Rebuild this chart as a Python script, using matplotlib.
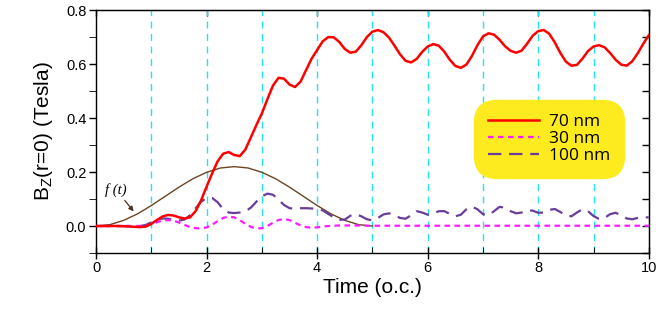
import numpy as np
import matplotlib.pyplot as plt

plt.rcParams['font.family'] = ['Liberation Sans', 'DejaVu Sans']
plt.rcParams['mathtext.fontset'] = 'custom'
plt.rcParams['mathtext.rm'] = 'Liberation Sans'

# time grid (o.c.), step 0.1
time = np.round(np.arange(0, 101) * 0.1, 1)

b_70nm = [0, 0, 0, 0, 0, -0.001, -0.002, -0.003, -0.004, -0.002,
          0.008, 0.022, 0.035, 0.041, 0.039, 0.032, 0.028, 0.032, 0.055, 0.095,
          0.146, 0.195, 0.240, 0.268, 0.274, 0.263, 0.259, 0.283, 0.328, 0.374,
          0.417, 0.470, 0.520, 0.549, 0.546, 0.524, 0.515, 0.535, 0.578, 0.620,
          0.652, 0.684, 0.700, 0.699, 0.682, 0.656, 0.642, 0.646, 0.670, 0.700,
          0.720, 0.726, 0.718, 0.698, 0.668, 0.636, 0.612, 0.606, 0.619, 0.645,
          0.665, 0.674, 0.668, 0.646, 0.616, 0.593, 0.586, 0.598, 0.630, 0.670,
          0.702, 0.714, 0.709, 0.690, 0.666, 0.649, 0.642, 0.650, 0.676, 0.705,
          0.722, 0.726, 0.712, 0.680, 0.641, 0.609, 0.594, 0.597, 0.620, 0.648,
          0.665, 0.670, 0.662, 0.641, 0.616, 0.598, 0.594, 0.610, 0.640, 0.675,
          0.707]

b_30nm = [0, 0, 0, 0, 0, 0, 0, 0, 0, 0.001,
          0.006, 0.014, 0.020, 0.022, 0.020, 0.013, 0.004, -0.004, -0.008, -0.009,
          -0.005, 0.005, 0.018, 0.030, 0.035, 0.032, 0.022, 0.008, -0.003, -0.009,
          -0.008, 0.000, 0.012, 0.022, 0.026, 0.022, 0.012, 0.002, -0.004, -0.006,
          -0.005, -0.002, 0.000, 0.001, 0.002, 0.002, 0.002, 0.002, 0.002, 0.001,
          0.001, 0.001, 0.001, 0.001, 0.001, 0.001, 0.001, 0.001, 0.001, 0.001,
          0.001, 0.001, 0.001, 0.001, 0.001, 0.001, 0.001, 0.001, 0.001, 0.001,
          0.001, 0.001, 0.001, 0.001, 0.001, 0.001, 0.001, 0.001, 0.001, 0.001,
          0.001, 0.001, 0.001, 0.001, 0.001, 0.001, 0.001, 0.001, 0.001, 0.001,
          0.001, 0.001, 0.001, 0.001, 0.001, 0.001, 0.001, 0.001, 0.001, 0.001,
          0.001]

b_100nm = [0, 0, 0, 0, 0, 0, 0, 0, 0, 0.004,
           0.014, 0.024, 0.028, 0.027, 0.023, 0.020, 0.024, 0.040, 0.065, 0.090,
           0.104, 0.104, 0.088, 0.062, 0.050, 0.048, 0.050, 0.054, 0.068, 0.090,
           0.110, 0.120, 0.116, 0.098, 0.078, 0.066, 0.064, 0.066, 0.066, 0.065,
           0.064, 0.058, 0.045, 0.032, 0.023, 0.024, 0.038, 0.044, 0.036, 0.025,
           0.021, 0.030, 0.043, 0.047, 0.040, 0.030, 0.027, 0.040, 0.055, 0.050,
           0.042, 0.045, 0.055, 0.055, 0.045, 0.036, 0.042, 0.062, 0.072, 0.062,
           0.044, 0.040, 0.055, 0.071, 0.068, 0.055, 0.047, 0.050, 0.058, 0.057,
           0.049, 0.050, 0.060, 0.063, 0.052, 0.039, 0.036, 0.050, 0.062, 0.055,
           0.037, 0.026, 0.030, 0.044, 0.049, 0.040, 0.028, 0.025, 0.030, 0.032,
           0.032]

# pulse envelope f(t)
f_time = [0, 0.25, 0.5, 0.75, 1.0, 1.25, 1.5, 1.75, 2.0, 2.25, 2.5,
          2.75, 3.0, 3.25, 3.5, 3.75, 4.0, 4.25, 4.5, 4.75, 5.0]
f_vals = [0, 0.005, 0.021, 0.045, 0.076, 0.110, 0.144, 0.175, 0.199, 0.215, 0.220,
          0.215, 0.199, 0.175, 0.144, 0.110, 0.076, 0.045, 0.021, 0.005, 0]

grid_times = [1, 2, 3, 4, 5, 6, 7, 8, 9]

fig = plt.figure(figsize=(6.58, 3.25), dpi=100)
ax = fig.add_axes([0.146, 0.2215, 0.84, 0.7475])

for g in grid_times:
    ax.axvline(g, color='#22e4f0', lw=1.0, ls=(0, (5, 4)), zorder=1)

ax.plot(f_time, f_vals, color='#6b4424', lw=1.0, zorder=2)
ax.plot(time, b_100nm, color='#6a3d9a', lw=1.6, ls=(0, (6, 3.5)), zorder=3,
        label='100 nm', dash_joinstyle='round')
ax.plot(time, b_30nm, color='#ff1aff', lw=1.6, ls=(0, (2.5, 2)), zorder=3,
        label='30 nm', dash_joinstyle='round')
ax.plot(time, b_70nm, color='#ff0000', lw=1.8, zorder=4, label='70 nm',
        solid_joinstyle='round')

ax.annotate('f (t)', xy=(0.68, 0.054), xytext=(0.36, 0.135),
            fontsize=10.5, family='Liberation Serif', style='italic',
            ha='center', va='center',
            arrowprops=dict(arrowstyle='-|>', color='#4a3020', lw=0.9,
                            mutation_scale=7, shrinkA=1, shrinkB=0))

ax.set_xlim(0, 10)
ax.set_ylim(-0.1, 0.8)
ax.set_xticks([0, 2, 4, 6, 8, 10])
ax.set_xticks([1, 3, 5, 7, 9], minor=True)
ax.set_yticks([0.0, 0.2, 0.4, 0.6, 0.8])
ax.set_yticklabels(['0.0', '0.2', '0.4', '0.6', '0.8'])
ax.set_yticks([-0.1, 0.1, 0.3, 0.5, 0.7], minor=True)
ax.tick_params(axis='both', labelsize=10.5, color='black', width=1)
ax.tick_params(axis='x', which='major', direction='inout', length=8, pad=2)
ax.tick_params(axis='x', which='minor', direction='in', length=4)
ax.tick_params(axis='y', which='major', direction='out', length=5, pad=2)
ax.tick_params(axis='y', which='minor', direction='out', length=5)
for sp in ax.spines.values():
    sp.set_linewidth(1.0)

# inward ticks on the right and top frames
right = ax.secondary_yaxis('right')
right.set_yticks([-0.1, 0.0, 0.1, 0.2, 0.3, 0.4, 0.5, 0.6, 0.7, 0.8])
right.tick_params(direction='in', length=5, labelright=False, width=1)
top = ax.secondary_xaxis('top')
top.set_xticks([0, 2, 4, 6, 8, 10])
top.tick_params(direction='in', length=4, labeltop=False, width=1)

ax.set_xlabel('Time (o.c.)', fontsize=15, labelpad=2)
ax.set_ylabel('B$_\\mathregular{Z}$(r=0) (Tesla)', fontsize=15, labelpad=8)

# legend in yellow rounded box
handles, labels = ax.get_legend_handles_labels()
order = [2, 1, 0]
leg = ax.legend([handles[i] for i in order], [labels[i] for i in order],
                loc='center', bbox_to_anchor=(0.82, 0.47), frameon=True,
                fancybox=True, prop={'family': 'Open Sans', 'size': 12.5},
                handlelength=2.9, handletextpad=0.6, labelspacing=0.05,
                borderpad=0.6, framealpha=1)
leg.get_frame().set_facecolor('#fdeb20')
leg.get_frame().set_edgecolor('#fdeb20')
leg.get_frame().set_boxstyle('round,pad=0.2,rounding_size=1.3')

fig.savefig('out.png', dpi=100)
